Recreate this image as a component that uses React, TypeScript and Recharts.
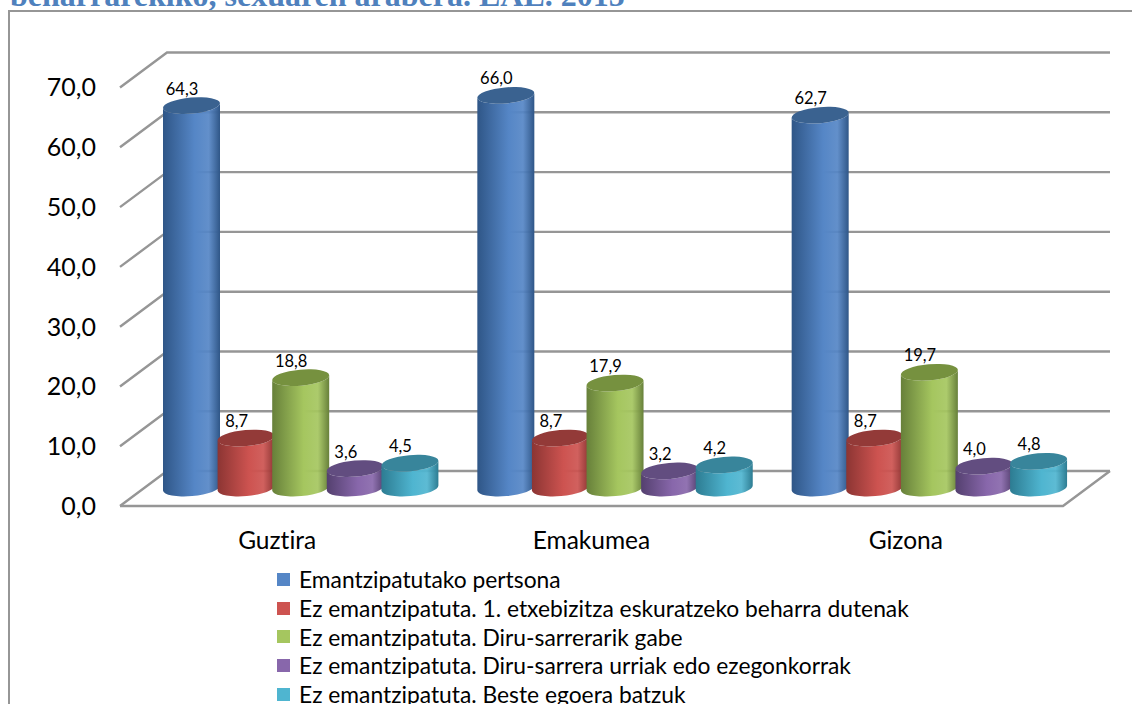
import { Bar, BarChart, CartesianGrid, LabelList, Legend, XAxis, YAxis } from "recharts";

const categories = ["Guztira", "Emakumea", "Gizona"];
const emantzipatuak = [64.3, 66.0, 62.7];
const etxebizitza = [8.7, 8.7, 8.7];
const diruGabe = [18.8, 17.9, 19.7];
const diruUrriak = [3.6, 3.2, 4.0];
const besteak = [4.5, 4.2, 4.8];
const yTicks = [0, 10, 20, 30, 40, 50, 60, 70];

const seriesNames = [
  "Emantzipatutako pertsona",
  "Ez emantzipatuta. 1. etxebizitza eskuratzeko beharra dutenak",
  "Ez emantzipatuta. Diru-sarrerarik gabe",
  "Ez emantzipatuta. Diru-sarrera urriak edo ezegonkorrak",
  "Ez emantzipatuta. Beste egoera batzuk",
];
const seriesValues = [emantzipatuak, etxebizitza, diruGabe, diruUrriak, besteak];
// side dark, side light, top face
const seriesColors = [
  ["#2f5687", "#5586c6", "#3a6290"],
  ["#8c3533", "#cd5350", "#933a38"],
  ["#67803a", "#a5c65f", "#76913f"],
  ["#54406f", "#8867ab", "#624d80"],
  ["#2d7c92", "#4fb5d0", "#38859b"],
];

const data = categories.map((name, i) => {
  const row: Record<string, any> = { name };
  seriesNames.forEach((s, j) => (row[s] = seriesValues[j][i]));
  return row;
});

const FONT = "Lato, 'Open Sans', sans-serif";
const GRID = "#969696";
// 3d look: depth of the floor, and where the cylinders stand on it
const DEPTH_X = 47;
const DEPTH_Y = 35;
const BAR_DX = 22;
const BAR_DY = 16;

function GridRow(props: any) {
  const { x1, x2, y1, index } = props;
  const by = y1 - DEPTH_Y;
  return (
    <g key={index} stroke={GRID} strokeWidth={2.4} fill="none">
      <path d={`M${x1} ${y1}L${x1 + DEPTH_X} ${by}L${x2 + DEPTH_X} ${by}`} />
      {y1 > 500 ? <path d={`M${x1} ${y1}L${x2} ${y1}L${x2 + DEPTH_X} ${by}`} /> : null}
    </g>
  );
}

function Cylinder(props: any) {
  const { x, y, height, idx } = props;
  const w = 57;
  const l = x + BAR_DX;
  const r = l + w;
  const rx = w / 2;
  const ry = 8;
  const tilt = -5;
  const top = y - BAR_DY;
  const bot = y + height - BAR_DY - 2;
  const c = seriesColors[idx];
  const tl = top + 2.5;
  const tr = top - 2.5;
  const bl = bot + 2.5;
  const br = bot - 2.5;
  return (
    <g>
      <path
        d={`M${l} ${tl}L${l} ${bl}A${rx} ${ry} ${tilt} 0 0 ${r} ${br}L${r} ${tr}A${rx} ${ry} ${tilt} 0 1 ${l} ${tl}Z`}
        fill={`url(#cyl${idx})`}
      />
      <path d={`M${l} ${tl}A${rx} ${ry} ${tilt} 0 1 ${r} ${tr}A${rx} ${ry} ${tilt} 0 1 ${l} ${tl}Z`} fill={c[2]} />
    </g>
  );
}

function BarLabel(props: any) {
  const { x, y, value } = props;
  return (
    <text
      x={x + BAR_DX + 19}
      y={y - BAR_DY - 11}
      textAnchor="middle"
      fontFamily={FONT}
      fontSize={16.5}
      fill="#000"
    >
      {value.toFixed(1).replace(".", ",")}
    </text>
  );
}

function LegendBox() {
  return (
    <div style={{ fontFamily: FONT, fontSize: 22.8, color: "#000" }}>
      {seriesNames.map((s, i) => (
        <div key={s} style={{ display: "flex", alignItems: "center", height: 28.7, whiteSpace: "nowrap" }}>
          <span style={{ width: 13, height: 13, background: seriesColors[i][1], marginRight: 9 }} />
          {s}
        </div>
      ))}
    </div>
  );
}

export default function App() {
  return (
    <div
      style={{
        position: "absolute",
        left: 0,
        top: 0,
        width: 1132,
        height: 704,
        overflow: "hidden",
        background: "#fff",
        fontVariantLigatures: "none",
      }}
    >
      <div
        style={{
          position: "absolute",
          left: 10,
          top: -23,
          fontFamily: "'Liberation Serif', serif",
          fontWeight: "bold",
          fontSize: 32,
          color: "#4f81bd",
          whiteSpace: "nowrap",
        }}
      >
        beharrarekiko, sexuaren arabera. EAE. 2015
      </div>
      <div style={{ position: "absolute", left: 8, top: 10, width: 1200, height: 800, border: "2px solid #969696" }} />
      <div style={{ position: "absolute", left: 0, top: 0 }}>
        <BarChart
          width={1132}
          height={704}
          data={data}
          margin={{ top: 87.5, right: 69, bottom: 24.5, left: 0 }}
          barSize={54}
          barGap={0.6}
        >
          <defs>
            {seriesColors.map((c, i) => (
              <linearGradient key={i} id={`cyl${i}`} x1="0" y1="0" x2="1" y2="0">
                <stop offset="0" stopColor={c[0]} />
                <stop offset="0.55" stopColor={c[1]} />
                <stop offset="0.8" stopColor={c[1]} stopOpacity={0.92} />
                <stop offset="1" stopColor={c[0]} />
              </linearGradient>
            ))}
          </defs>
          <CartesianGrid vertical={false} horizontal={GridRow as any} />
          <XAxis
            dataKey="name"
            axisLine={false}
            tickLine={false}
            tick={{ fill: "#000", fontSize: 24.5, fontFamily: FONT }}
            tickMargin={20}
          />
          <YAxis
            domain={[0, 70]}
            ticks={yTicks}
            width={120}
            axisLine={false}
            tickLine={false}
            tick={{ fill: "#000", fontSize: 25, fontFamily: FONT }}
            tickMargin={18}
            tickFormatter={(v: number) => v.toFixed(1).replace(".", ",")}
          />
          <Legend
            verticalAlign="bottom"
            content={<LegendBox />}
            wrapperStyle={{ position: "absolute", left: 277, top: 565, bottom: "auto", width: 800 }}
          />
          {seriesNames.map((s, i) => (
            <Bar key={s} dataKey={s} isAnimationActive={false} shape={(p: any) => <Cylinder {...p} idx={i} />}>
              <LabelList dataKey={s} content={BarLabel as any} />
            </Bar>
          ))}
        </BarChart>
      </div>
    </div>
  );
}
